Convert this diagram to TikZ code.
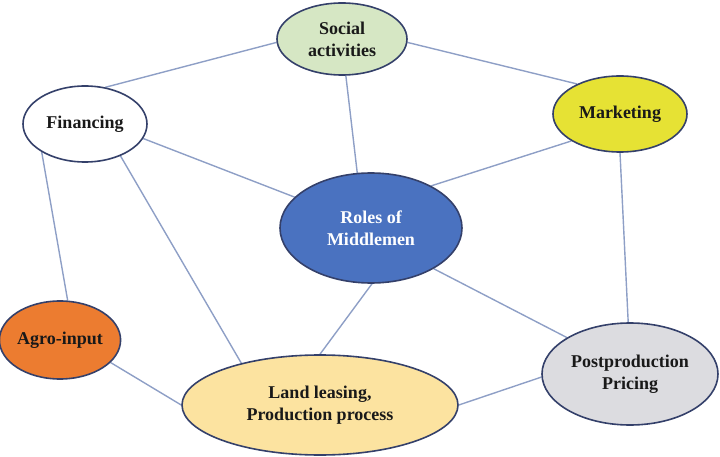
\documentclass[tikz,border=0pt]{standalone}
\usepackage{fontspec}
\setmainfont{Liberation Serif}
\usetikzlibrary{shapes.geometric,backgrounds}
\definecolor{edgec}{HTML}{8E9FC6}
\definecolor{borderc}{HTML}{34406A}
\definecolor{socialc}{HTML}{D6E7C4}
\definecolor{marketc}{HTML}{E6E234}
\definecolor{rolesc}{HTML}{4A72C0}
\definecolor{agroc}{HTML}{EC7C30}
\definecolor{landc}{HTML}{FCE3A0}
\definecolor{postc}{HTML}{DCDCE0}
\tikzset{
  bub/.style={ellipse, draw=borderc, line width=1.6pt, inner sep=0pt, align=center,
    font=\fontsize{18}{22}\selectfont\bfseries, text=black!90},
  link/.style={draw=edgec, line width=1.4pt}
}
\begin{document}
\begin{tikzpicture}[x=1pt,y=-1pt]
\useasboundingbox (0,0) rectangle (720,457);
\node[bub, fill=socialc, minimum width=130pt, minimum height=72pt] (soc) at (342,39) {Social\\activities};
\node[bub, fill=white, minimum width=124pt, minimum height=76pt] (fin) at (85,124) {Financing};
\node[bub, fill=marketc, minimum width=134pt, minimum height=76pt] (mkt) at (620,114) {Marketing};
\node[bub, fill=rolesc, text=white, minimum width=182pt, minimum height=110pt] (rol) at (371,228) {Roles of\\Middlemen};
\node[bub, fill=agroc, minimum width=116pt, minimum height=78pt] (agr) at (60,340) {Agro-input};
\node[bub, fill=landc, minimum width=276pt, minimum height=100pt] (lnd) at (320,405) {Land leasing,\\Production process};
\node[bub, fill=postc, minimum width=176pt, minimum height=102pt] (pst) at (630,374) {Postproduction\\Pricing};
\begin{pgfonlayer}{background}
\draw[link] (soc.183) -- (fin.61);
\draw[link] (soc.-3) -- (mkt.145);
\draw[link] (soc.-84) -- (rol.104);
\draw[link] (fin.-14) -- (rol.158);
\draw[link] (mkt.209) -- (rol.35);
\draw[link] (mkt.-90) -- (pst.92);
\draw[link] (fin.213) -- (agr.79);
\draw[link] (fin.-42) -- (lnd.152);
\draw[link] (rol.-89) -- (lnd.90);
\draw[link] (rol.-33) -- (pst.150);
\draw[link] (agr.-24) -- (lnd.180);
\draw[link] (lnd.0) -- (pst.182);
\end{pgfonlayer}
\end{tikzpicture}
\end{document}
